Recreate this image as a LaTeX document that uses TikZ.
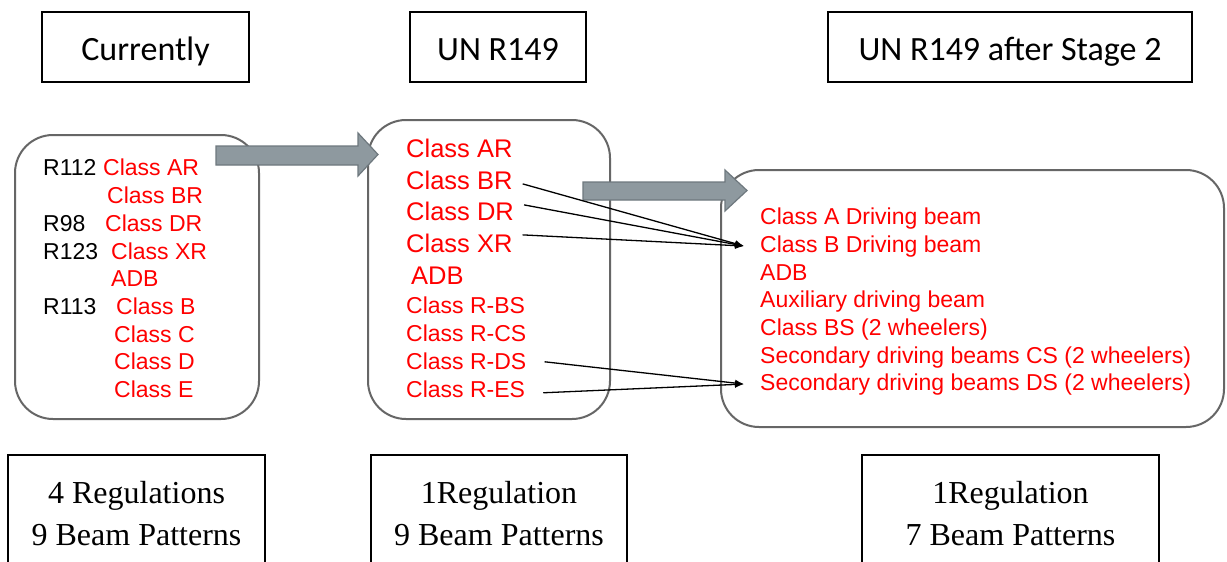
\documentclass[tikz,border=0pt]{standalone}
\usepackage{fontspec}
\setmainfont{Liberation Serif}
\newfontfamily\arialfont{Liberation Sans}
\newfontfamily\calibrifont{Carlito}
\usetikzlibrary{arrows.meta}
\definecolor{boxgray}{HTML}{666666}
\definecolor{arrowgray}{HTML}{8E999F}
\definecolor{arrowedge}{HTML}{6E787E}
\definecolor{classred}{HTML}{FF0000}

\begin{document}
\begin{tikzpicture}[x=1pt,y=-1pt]
    \tikzstyle{title} = [draw=black, line width=1.4pt, minimum height=70pt, inner sep=0pt, text height=26pt, text depth=0pt, font=\calibrifont\fontsize{34}{40}\selectfont]
    \tikzstyle{group} = [draw=boxgray, line width=2pt, rounded corners=38pt]
    \tikzstyle{reg} = [anchor=base west, inner sep=0pt, font=\arialfont\fontsize{23}{27}\selectfont]
    \tikzstyle{cls} = [reg, text=classred]
    \tikzstyle{bigcls} = [cls, font=\arialfont\fontsize{25.5}{30}\selectfont]
    \tikzstyle{mapto} = [-{Latex[length=9pt,width=7pt]}, line width=1.3pt]
    \tikzstyle{step arrow} = [fill=arrowgray, draw=arrowedge, line width=1.2pt]
    \tikzstyle{summary} = [align=center, inner sep=0pt, font=\fontsize{32}{42}\selectfont]
    \clip (0,0) rectangle (1227,562);
    \fill[white] (0,0) rectangle (1227,562);
    % headings
    \node (nowtitle) [title, minimum width=207pt] at (145.5,47) {Currently};
    \node (untitle) [title, minimum width=176pt] at (498,47) {UN R149};
    \node (sttitle) [title, minimum width=364pt] at (1010,47) {UN R149 after Stage 2};
    % the three groups
    \draw[group] (15,135) rectangle (259,419);
    \draw[group] (368,120) rectangle (610,419);
    \draw[group] (721,170) rectangle (1224,427);
    % currently
    \node (r112) [reg] at (43,175) {R112};
    \node (curAR) [cls] at (103,175) {Class AR};
    \node (curBR) [cls] at (107,203) {Class BR};
    \node (r98) [reg] at (43,231) {R98};
    \node (curDR) [cls] at (105,231) {Class DR};
    \node (r123) [reg] at (43,259) {R123};
    \node (curXR) [cls] at (111,259) {Class XR};
    \node (curADB) [cls] at (111,286) {ADB};
    \node (r113) [reg] at (43,314) {R113};
    \node (curB) [cls] at (116,314) {Class B};
    \node (curC) [cls] at (114,342) {Class C};
    \node (curD) [cls] at (114,369) {Class D};
    \node (curE) [cls] at (114,397) {Class E};
    % UN R149
    \node (unAR) [bigcls] at (406,157) {Class AR};
    \node (unBR) [bigcls] at (406,189) {Class BR};
    \node (unDR) [bigcls] at (406,220) {Class DR};
    \node (unXR) [bigcls] at (406,252) {Class XR};
    \node (unADB) [bigcls] at (411,284) {ADB};
    \node (unBS) [cls] at (406,313) {Class R-BS};
    \node (unCS) [cls] at (406,341) {Class R-CS};
    \node (unDS) [cls] at (406,369) {Class R-DS};
    \node (unES) [cls] at (406,397) {Class R-ES};
    % after stage 2
    \node (stA) [cls] at (760,224) {Class A Driving beam};
    \node (stB) [cls] at (760,252) {Class B Driving beam};
    \node (stADB) [cls] at (760,280) {ADB};
    \node (stAux) [cls] at (760,307) {Auxiliary driving beam};
    \node (stBS) [cls] at (760,335) {Class BS (2 wheelers)};
    \node (stCS) [cls] at (760,363) {Secondary driving beams CS (2 wheelers)};
    \node (stDS) [cls] at (760,390) {Secondary driving beams DS (2 wheelers)};
    % block arrows
    \draw[step arrow] (216,146) -- (358,146) -- (358,133) -- (378,154.5) -- (358,176) -- (358,165) -- (216,165) -- cycle;
    \draw[step arrow] (583,182) -- (725,182) -- (725,170) -- (747,190.5) -- (725,211) -- (725,200) -- (583,200) -- cycle;
    % mapping
    \draw[mapto] ([xshift=10pt,yshift=-4pt]unBR.east) -- ([xshift=-16pt]stB.west);
    \draw[mapto] ([xshift=10pt,yshift=6pt]unDR.east) -- ([xshift=-16pt]stB.west);
    \draw[mapto] ([xshift=10pt,yshift=8pt]unXR.east) -- ([xshift=-16pt]stB.west);
    \draw[mapto] ([xshift=18pt,yshift=-1pt]unDS.east) -- ([xshift=-16pt]stDS.west);
    \draw[mapto] ([xshift=18pt,yshift=-4pt]unES.east) -- ([xshift=-16pt]stDS.west);
    % totals
    \node (nowsum) [summary] at (136.5,514) {4 Regulations\\9 Beam Patterns};
    \node (unsum) [summary] at (499,514) {1Regulation\\9 Beam Patterns};
    \node (stsum) [summary] at (1010.5,514) {1Regulation\\7 Beam Patterns};
    \draw[line width=1.2pt] (8,455) rectangle (265,600);
    \draw[line width=1.2pt] (371,455) rectangle (627,600);
    \draw[line width=1.2pt] (862,455) rectangle (1159,600);
\end{tikzpicture}
\end{document}
